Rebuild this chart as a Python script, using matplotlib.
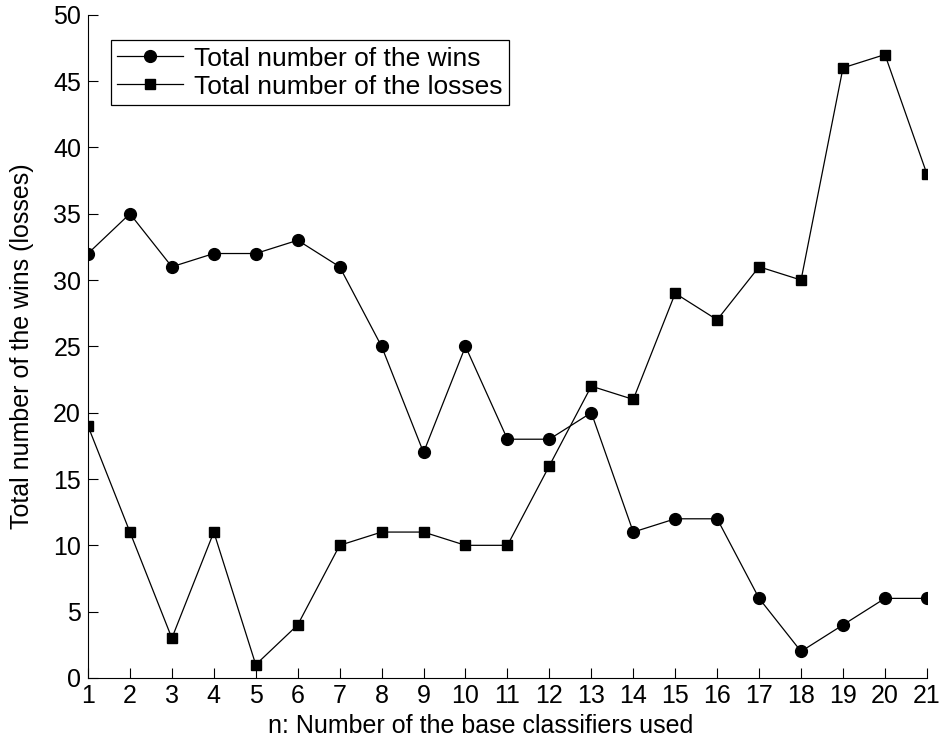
import matplotlib
matplotlib.use("Agg")
import matplotlib.pyplot as plt

n = list(range(1, 22))
wins = [32, 35, 31, 32, 32, 33, 31, 25, 17, 25, 18, 18, 20, 11, 12, 12, 6, 2, 4, 6, 6]
losses = [19, 11, 3, 11, 1, 4, 10, 11, 11, 10, 10, 16, 22, 21, 29, 27, 31, 30, 46, 47, 38]
yticks = list(range(0, 51, 5))

plt.rcParams['font.family'] = ['Liberation Sans', 'DejaVu Sans']
fig = plt.figure(figsize=(9.41, 7.46), dpi=100)
ax = fig.add_axes([0.0935, 0.0912, 0.8915, 0.889])
ax.plot(n, wins, '-o', color='black', lw=0.9, ms=8.5, label='Total number of the wins')
ax.plot(n, losses, '-s', color='black', lw=0.9, ms=7.5, label='Total number of the losses')
ax.set_xlim(1, 21)
ax.set_ylim(0, 50)
ax.set_xticks(n)
ax.set_yticks(yticks)
ax.spines['top'].set_visible(False)
ax.spines['right'].set_visible(False)
ax.tick_params(direction='in', length=7, labelsize=18, width=0.8)
ax.tick_params(axis='x', pad=4)
ax.tick_params(axis='y', pad=5)
ax.set_xlabel('n: Number of the base classifiers used', fontsize=18)
ax.xaxis.set_label_coords(0.468, -0.055)
ax.set_ylabel('Total number of the wins (losses)', fontsize=18, labelpad=14)
leg = ax.legend(loc='upper left', bbox_to_anchor=(0.027, 0.962), fontsize=19,
                fancybox=False, edgecolor='black', framealpha=1,
                borderpad=0.25, handlelength=2.5, handletextpad=0.4,
                labelspacing=0.15, borderaxespad=0)
leg.get_frame().set_linewidth(0.9)
fig.savefig('out.png', dpi=100)
